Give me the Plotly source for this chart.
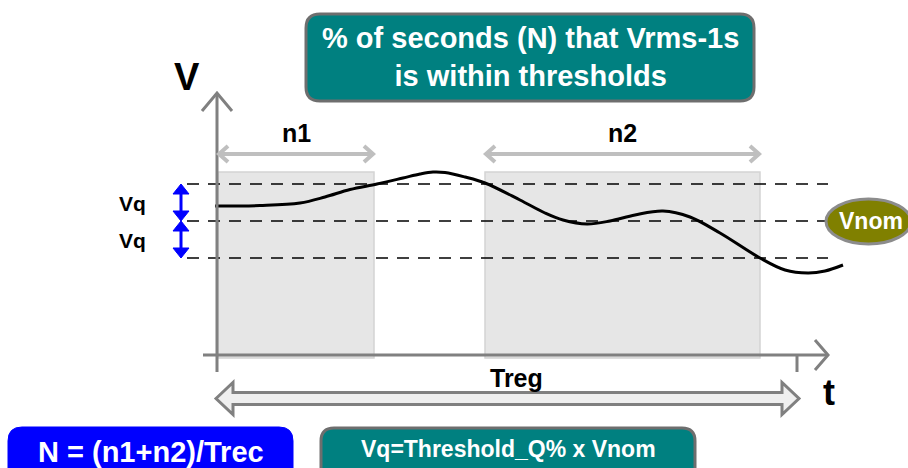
import plotly.graph_objects as go

W, H = 908, 468
FONT = "Liberation Sans, Arial, sans-serif"

# Signal curve (Vrms-1s) in diagram units (pixel-like frame, y down)
curve_t = [215, 260, 300, 325, 350, 377, 403, 420, 433, 445, 465, 485, 520, 545,
           563, 587, 610, 635, 663, 690, 720, 760, 785, 808, 825, 843]
curve_v = [206, 205.5, 203, 197, 189.5, 184, 178, 174, 172, 172.5, 177, 183, 200, 213,
           220, 224, 221, 215, 211, 217, 233, 258, 270, 273, 271, 265]

# Threshold levels: upper (Vnom+Vq), Vnom, lower (Vnom-Vq)
threshold_levels = [184, 221, 258]
threshold_x = [187, 828]

# Intervals within thresholds
intervals = {"n1": [218, 374], "n2": [485, 760]}
interval_y = [172, 358]
interval_arrow_y = 154
interval_label_y = 133

axis_origin = [217, 355]
axis_x_end = 828
axis_y_top = 93
treg_x = [216, 799]

fig = go.Figure()

shapes = []
annotations = []

# Shaded intervals
for name, (x0, x1) in intervals.items():
    shapes.append(dict(type="rect", x0=x0, x1=x1, y0=interval_y[0], y1=interval_y[1],
                       fillcolor="#e6e6e6", line=dict(color="#d4d4d4", width=1.5), layer="below"))

# Dashed threshold lines
for y in threshold_levels:
    shapes.append(dict(type="line", x0=threshold_x[0], x1=threshold_x[1], y0=y, y1=y,
                       line=dict(color="black", width=1.3, dash="12px,9px")))

# Axes
gray = "#808080"
ox, oy = axis_origin
shapes += [
    dict(type="line", x0=ox, x1=ox, y0=axis_y_top + 1, y1=372, line=dict(color=gray, width=3)),
    dict(type="path", path=f"M {ox-15} {axis_y_top+18} L {ox} {axis_y_top} L {ox+15} {axis_y_top+18}",
         line=dict(color=gray, width=3)),
    dict(type="line", x0=203, x1=axis_x_end - 1, y0=oy, y1=oy, line=dict(color=gray, width=3)),
    dict(type="path", path=f"M {axis_x_end-13} {oy-15} L {axis_x_end} {oy} L {axis_x_end-13} {oy+15}",
         line=dict(color=gray, width=3)),
    dict(type="line", x0=797, x1=797, y0=oy, y1=372, line=dict(color=gray, width=3)),
]

# Interval double arrows (gray)
ag = "#bfbfbf"
for name, (x0, x1) in intervals.items():
    y = interval_arrow_y
    shapes.append(dict(type="line", x0=x0 + 1, x1=x1 - 1, y0=y, y1=y, line=dict(color=ag, width=4)))
    shapes.append(dict(type="path", path=f"M {x0+10} {y-8} L {x0+1} {y} L {x0+10} {y+8}",
                       line=dict(color=ag, width=4)))
    shapes.append(dict(type="path", path=f"M {x1-10} {y-8} L {x1-1} {y} L {x1-10} {y+8}",
                       line=dict(color=ag, width=4)))
    annotations.append(dict(x=(x0 + x1) / 2, y=interval_label_y, text=f"<b>{name}</b>", showarrow=False,
                            font=dict(family=FONT, size=25, color="black")))

# Blue Vq arrows
bx = 181
blue = "#0000ff"
for (ya, yb) in [(threshold_levels[0], threshold_levels[1]), (threshold_levels[1], threshold_levels[2])]:
    shapes.append(dict(type="line", x0=bx, x1=bx, y0=ya + 8, y1=yb - 8, line=dict(color=blue, width=3)))
    shapes.append(dict(type="path", path=f"M {bx} {ya} L {bx-8} {ya+10} L {bx+8} {ya+10} Z",
                       fillcolor=blue, line=dict(color=blue, width=1)))
    shapes.append(dict(type="path", path=f"M {bx} {yb} L {bx-8} {yb-10} L {bx+8} {yb-10} Z",
                       fillcolor=blue, line=dict(color=blue, width=1)))
    annotations.append(dict(x=132, y=(ya + yb) / 2 + 1, text="<b>Vq</b>", showarrow=False,
                            font=dict(family=FONT, size=21, color="black")))

# Treg hollow double arrow
tx0, tx1 = treg_x
ty = 398.5
shapes.append(dict(type="path",
                   path=(f"M {tx0} {ty} L {tx0+17} {ty-16} L {tx0+17} {ty-6} L {tx1-17} {ty-6} "
                         f"L {tx1-17} {ty-16} L {tx1} {ty} L {tx1-17} {ty+16} L {tx1-17} {ty+6} "
                         f"L {tx0+17} {ty+6} L {tx0+17} {ty+16} Z"),
                   fillcolor="#efefef", line=dict(color=gray, width=3)))
annotations.append(dict(x=516, y=378, text="<b>Treg</b>", showarrow=False,
                        font=dict(family=FONT, size=25, color="black")))

# Axis labels
annotations.append(dict(x=187, y=77, text="<b>V</b>", showarrow=False,
                        font=dict(family=FONT, size=38, color="black")))
annotations.append(dict(x=829, y=392, text="<b>t</b>", showarrow=False,
                        font=dict(family=FONT, size=36, color="black")))


def rrect(x0, y0, x1, y1, r):
    return (f"M {x0+r} {y0} L {x1-r} {y0} Q {x1} {y0} {x1} {y0+r} L {x1} {y1-r} "
            f"Q {x1} {y1} {x1-r} {y1} L {x0+r} {y1} Q {x0} {y1} {x0} {y1-r} "
            f"L {x0} {y0+r} Q {x0} {y0} {x0+r} {y0} Z")


teal = "#008080"
# Title box
shapes.append(dict(type="path", path=rrect(306, 14, 754, 101, 14), fillcolor=teal,
                   line=dict(color="#6e6e6e", width=3)))
annotations.append(dict(x=530, y=57, text="<b>% of seconds (N) that Vrms-1s<br>is within thresholds</b>",
                        showarrow=False, font=dict(family=FONT, size=29, color="white"),
                        align="center"))

# Vnom ellipse
shapes.append(dict(type="circle", x0=826, x1=911, y0=199, y1=244, fillcolor="#808000",
                   line=dict(color="#8c8c8c", width=3)))
annotations.append(dict(x=871, y=221, text="<b>Vnom</b>", showarrow=False,
                        font=dict(family=FONT, size=23, color="white")))

# Bottom boxes
shapes.append(dict(type="path", path=rrect(8, 427, 293, 485, 14), fillcolor=blue,
                   line=dict(color=blue, width=1)))
annotations.append(dict(x=151, y=452, text="<b>N = (n1+n2)/Trec</b>", showarrow=False,
                        font=dict(family=FONT, size=29, color="white")))
shapes.append(dict(type="path", path=rrect(321, 428, 695, 485, 13), fillcolor=teal,
                   line=dict(color="#6e6e6e", width=3)))
annotations.append(dict(x=508, y=449, text="<b>Vq=Threshold_Q% x Vnom</b>", showarrow=False,
                        font=dict(family=FONT, size=23, color="white")))

fig.add_trace(go.Scatter(x=curve_t, y=curve_v, mode="lines",
                         line=dict(color="black", width=3, shape="spline", smoothing=1.0),
                         hoverinfo="skip", showlegend=False))

fig.update_layout(
    width=W, height=H, margin=dict(l=0, r=0, t=0, b=0),
    paper_bgcolor="white", plot_bgcolor="white",
    xaxis=dict(range=[0, W], visible=False, fixedrange=True),
    yaxis=dict(range=[H, 0], visible=False, fixedrange=True),
    shapes=shapes, annotations=annotations, showlegend=False,
)

fig.write_html("out.html", config={"displayModeBar": False},
               post_script="document.body.style.margin='0';document.body.style.overflow='hidden';")
